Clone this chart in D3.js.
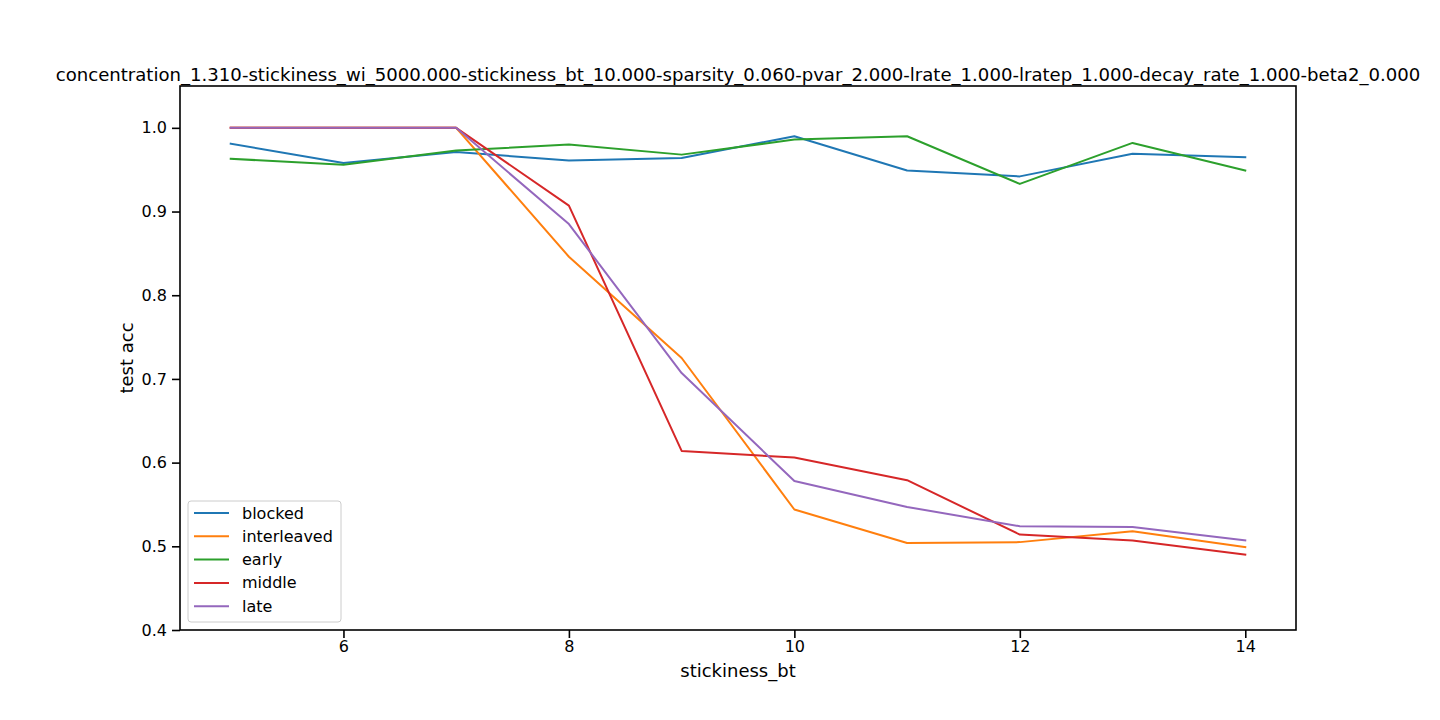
<!DOCTYPE html>
<html><head><meta charset="utf-8">
<script src="https://cdn.jsdelivr.net/npm/d3@7"></script>
<style>body{margin:0;background:#fff}svg{display:block}text{font-family:"DejaVu Sans",sans-serif;fill:#000}</style>
</head><body>
<svg id="c" width="1440" height="720"></svg>
<script>
const xs = [5,6,7,8,9,10,11,12,13,14];
const seriesNames = ["blocked","interleaved","early","middle","late"];
const colors = ["#1f77b4","#ff7f0e","#2ca02c","#d62728","#9467bd"];
const blocked =     [0.981,0.958,0.971,0.961,0.964,0.990,0.949,0.942,0.969,0.965];
const interleaved = [1.000,1.000,1.000,0.846,0.725,0.544,0.504,0.505,0.518,0.499];
const early =       [0.963,0.956,0.973,0.980,0.968,0.986,0.990,0.933,0.982,0.949];
const middle =      [1.000,1.000,1.000,0.907,0.614,0.606,0.579,0.514,0.507,0.490];
const late =        [1.000,1.000,1.000,0.885,0.707,0.578,0.547,0.524,0.523,0.507];
const xTicks = [6,8,10,12,14];
const yTicks = [0.4,0.5,0.6,0.7,0.8,0.9,1.0];
const title = "concentration_1.310-stickiness_wi_5000.000-stickiness_bt_10.000-sparsity_0.060-pvar_2.000-lrate_1.000-lratep_1.000-decay_rate_1.000-beta2_0.000";
const xLabel = "stickiness_bt", yLabel = "test acc";
const data = [blocked, interleaved, early, middle, late];

const svg = d3.select("#c");
const L=180,R=1296,T=86,B=630;
const x = d3.scaleLinear().domain([4.55,14.45]).range([L,R]);
const y = d3.scaleLinear().domain([0.4,1.05]).range([B,T]);

const line = d3.line().x((d,i)=>x(xs[i])).y(d=>y(d));
data.forEach((s,k)=>{
  svg.append("path").attr("d",line(s)).attr("fill","none")
    .attr("stroke",colors[k]).attr("stroke-width",2).attr("stroke-linejoin","round").attr("stroke-linecap","square");
});

const xa = svg.append("g").attr("transform",`translate(0,${B})`)
  .call(d3.axisBottom(x).tickValues(xTicks).tickFormat(d3.format("d")).tickSize(8).tickPadding(3));
const ya = svg.append("g").attr("transform",`translate(${L},0)`)
  .call(d3.axisLeft(y).tickValues(yTicks).tickFormat(d3.format(".1f")).tickSize(8).tickPadding(5));
[xa,ya].forEach(a=>{
  a.select(".domain").remove();
  a.selectAll(".tick line").attr("stroke","#000").attr("stroke-width",1.6);
  a.selectAll(".tick text").attr("font-size",16).attr("font-family","DejaVu Sans").attr("fill","#000");
});
svg.append("rect").attr("x",L).attr("y",T).attr("width",R-L).attr("height",B-T)
  .attr("fill","none").attr("stroke","#000").attr("stroke-width",1.6);

svg.append("text").attr("x",(L+R)/2).attr("y",81).attr("text-anchor","middle").attr("font-size",18.1).text(title);
svg.append("text").attr("x",(L+R)/2).attr("y",677).attr("text-anchor","middle").attr("font-size",18).text(xLabel);
svg.append("text").attr("transform","translate(133,358) rotate(-90)").attr("text-anchor","middle").attr("font-size",18).text(yLabel);

const lg = svg.append("g");
lg.append("rect").attr("x",188).attr("y",501).attr("width",153).attr("height",121).attr("rx",3)
  .attr("fill","#fff").attr("fill-opacity",0.8).attr("stroke","#ccc").attr("stroke-width",1);
seriesNames.forEach((n,k)=>{
  const yy = 513 + k*23.3;
  lg.append("line").attr("x1",194).attr("x2",229).attr("y1",yy).attr("y2",yy).attr("stroke",colors[k]).attr("stroke-width",2);
  lg.append("text").attr("x",242).attr("y",yy+5.5).attr("font-size",16).text(n);
});
</script>
</body></html>
